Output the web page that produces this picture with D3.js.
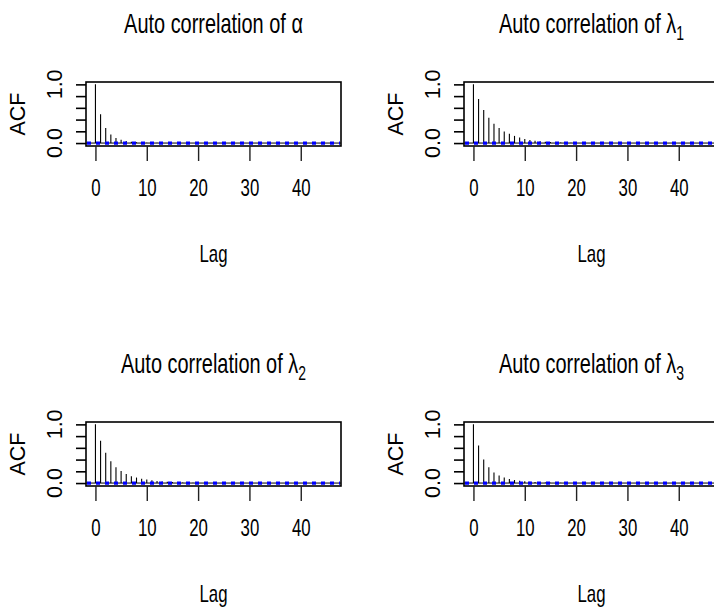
<!DOCTYPE html>
<html>
<head>
<meta charset="utf-8">
<script src="https://cdn.jsdelivr.net/npm/d3@7"></script>
<style>
  body { margin: 0; background: #fff; }
  text { font-family: "Liberation Sans", Arial, sans-serif; fill: #000; }
</style>
</head>
<body>
<div id="acf-grid"></div>
<script>
// ACF estimates for each parameter, lag 0 .. 46
var acfAlpha = [1, 0.49, 0.255, 0.145, 0.085, 0.055, 0.035, 0.022, 0.014, 0.010,
  0.007, 0.005, 0.004, 0.003, 0.002, 0.003, 0.002, 0.001, 0.002, 0.001,
  0.000, 0.001, 0.002, 0.001, 0.000, -0.001, 0.001, 0.000, 0.001, 0.000,
  -0.001, 0.000, 0.001, 0.001, 0.000, -0.001, 0.000, 0.001, 0.000, 0.000,
  -0.001, 0.000, 0.001, 0.000, 0.000, 0.001, 0.000];
var acfLambda1 = [1, 0.75, 0.565, 0.43, 0.33, 0.255, 0.198, 0.157, 0.122, 0.093,
  0.070, 0.052, 0.040, 0.030, 0.022, 0.016, 0.012, 0.009, 0.007, 0.005,
  0.004, 0.003, 0.003, 0.002, 0.002, 0.001, 0.002, 0.001, 0.001, 0.000,
  0.001, 0.001, 0.000, 0.001, 0.000, 0.000, 0.001, 0.000, -0.001, 0.000,
  0.001, 0.000, 0.000, 0.001, 0.000, -0.001, 0.000];
var acfLambda2 = [1, 0.72, 0.515, 0.37, 0.27, 0.205, 0.153, 0.118, 0.094, 0.075,
  0.060, 0.047, 0.036, 0.028, 0.021, 0.016, 0.012, 0.009, 0.007, 0.005,
  0.004, 0.003, 0.003, 0.002, 0.002, 0.001, 0.001, 0.002, 0.001, 0.000,
  0.001, 0.000, 0.001, 0.000, 0.000, 0.001, 0.000, -0.001, 0.000, 0.001,
  0.000, 0.000, 0.001, 0.000, 0.000, -0.001, 0.000];
var acfLambda3 = [1, 0.64, 0.40, 0.27, 0.18, 0.128, 0.093, 0.070, 0.052, 0.040,
  0.030, 0.022, 0.016, 0.012, 0.009, 0.007, 0.005, 0.004, 0.003, 0.002,
  0.002, 0.001, 0.002, 0.001, 0.000, 0.001, 0.001, 0.000, -0.001, 0.000,
  0.001, 0.000, 0.000, 0.001, 0.000, 0.000, -0.001, 0.000, 0.001, 0.000,
  0.000, 0.001, 0.000, -0.001, 0.000, 0.000, 0.001];

// symbol and subscript for each panel title
var paramSymbols = ["\u03b1", "\u03bb", "\u03bb", "\u03bb"];
var paramSubs = ["", "1", "2", "3"];
var titlePrefix = "Auto correlation of ";

// 95% confidence bound (1.96 / sqrt(n))
var ciBound = 0.0098;

var xTicks = [0, 10, 20, 30, 40];
var yTicks = [0, 0.2, 0.4, 0.6, 0.8, 1.0];
var yTickLabels = [0, 1.0];

var series = [acfAlpha, acfLambda1, acfLambda2, acfLambda3];

// page geometry (the original R device was wider than the shot, so the right column is cut off)
var pageW = 714, pageH = 609;
var colStep = 378, rowStep = 340;
var box = {'left': 86, 'right': 341, 'top': 82, 'bottom': 146};
var squeeze = 0.7; // horizontal text looks compressed in the reference

var svg = d3.select("#acf-grid").append("svg")
    .attr('width', pageW)
    .attr('height', pageH);

series.forEach(function(acf, i) {
    var col = i % 2, row = Math.floor(i / 2);
    var panel = svg.append("g")
        .attr('transform', 'translate(' + (col * colStep) + ',' + (row * rowStep) + ')');

    var lags = d3.range(acf.length);
    var lagMax = lags[lags.length - 1];

    // R style limits: data range expanded 4% each side
    var xPad = lagMax * 0.04;
    var x = d3.scaleLinear()
        .domain([-xPad, lagMax + xPad])
        .range([box.left, box.right]);

    var lo = Math.min(-ciBound, d3.min(acf)), hi = Math.max(ciBound, d3.max(acf));
    var yPad = (hi - lo) * 0.04;
    var y = d3.scaleLinear()
        .domain([lo - yPad, hi + yPad])
        .range([box.bottom, box.top]);

    // zero line
    panel.append("line")
        .attr('x1', box.left).attr('x2', box.right)
        .attr('y1', y(0)).attr('y2', y(0))
        .attr('stroke', '#000').attr('stroke-width', 1);

    // spikes
    panel.append("g").selectAll("line")
        .data(lags)
        .enter()
        .append("line")
        .attr('x1', function(d) { return x(d); })
        .attr('x2', function(d) { return x(d); })
        .attr('y1', y(0))
        .attr('y2', function(d) { return y(acf[d]); })
        .attr('stroke', '#000')
        .attr('stroke-width', 1.1);

    // confidence bounds
    panel.append("g").selectAll("line")
        .data([ciBound, -ciBound])
        .enter()
        .append("line")
        .attr('x1', box.left + 1).attr('x2', box.right - 1)
        .attr('y1', function(d) { return y(d); })
        .attr('y2', function(d) { return y(d); })
        .attr('stroke', '#0000ff')
        .attr('stroke-width', 2)
        .attr('stroke-dasharray', '4,5');

    // box
    panel.append("rect")
        .attr('x', box.left).attr('y', box.top)
        .attr('width', box.right - box.left)
        .attr('height', box.bottom - box.top)
        .attr('fill', 'none')
        .attr('stroke', '#000')
        .attr('stroke-width', 1.6);

    // x axis
    var xAxis = panel.append("g")
        .attr('transform', 'translate(0,' + box.bottom + ')')
        .call(d3.axisBottom(x).tickValues(xTicks).tickSize(15).tickSizeOuter(0));
    xAxis.select(".domain").remove();
    xAxis.selectAll(".tick line").attr('stroke', '#222').attr('stroke-width', 1.4);
    xAxis.selectAll(".tick text")
        .attr('x', 0)
        .attr('y', 50).attr('dy', 0)
        .attr('font-size', 24)
        .attr('font-family', '"Liberation Sans", Arial, sans-serif')
        .attr('fill', '#000')
        .attr('transform', 'scale(' + squeeze + ',1)');

    // y axis
    var yAxis = panel.append("g")
        .attr('transform', 'translate(' + box.left + ',0)')
        .call(d3.axisLeft(y).tickValues(yTicks).tickSize(10).tickSizeOuter(0).tickFormat(""));
    yAxis.select(".domain").remove();
    yAxis.selectAll(".tick line").attr('stroke', '#000').attr('stroke-width', 1.6);

    panel.append("g").selectAll("text")
        .data(yTickLabels)
        .enter()
        .append("text")
        .attr('transform', function(d) { return 'translate(62,' + y(d) + ') rotate(-90)'; })
        .attr('text-anchor', 'middle')
        .attr('font-size', 21.5)
        .text(function(d) { return d3.format(".1f")(d); });

    // axis titles
    panel.append("text")
        .attr('transform', 'translate(25,' + ((box.top + box.bottom) / 2) + ') rotate(-90)')
        .attr('text-anchor', 'middle')
        .attr('font-size', 21.5)
        .text("ACF");

    panel.append("text")
        .attr('transform', 'translate(' + ((box.left + box.right) / 2) + ',262) scale(' + squeeze + ',1)')
        .attr('text-anchor', 'middle')
        .attr('font-size', 24)
        .text("Lag");

    // main title
    var title = panel.append("text")
        .attr('transform', 'translate(' + ((box.left + box.right) / 2) + ',33) scale(' + squeeze + ',1)')
        .attr('text-anchor', 'middle')
        .attr('font-size', 28.5);
    title.append("tspan").text(titlePrefix + paramSymbols[i]);
    if (paramSubs[i]) {
        title.append("tspan")
            .attr('font-size', 20)
            .attr('dy', 7)
            .text(paramSubs[i]);
    }
});
</script>
</body>
</html>
